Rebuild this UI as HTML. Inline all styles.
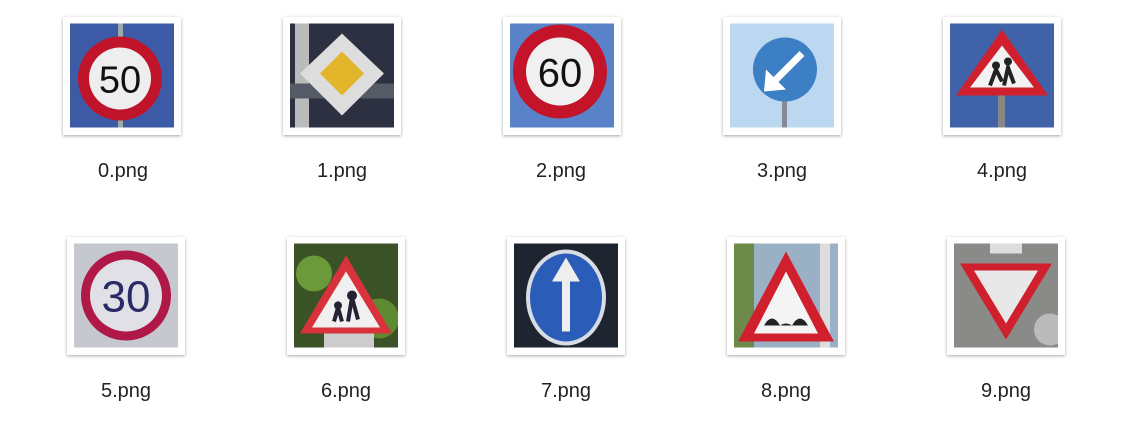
<!DOCTYPE html>
<html><head><meta charset="utf-8"><style>
body{margin:0;width:1124px;height:426px;background:#fff;position:relative;overflow:hidden;font-family:"Liberation Sans",sans-serif}
.t{position:absolute;width:118px;height:118px;background:#fff;box-shadow:0 1px 3px rgba(0,0,0,.35);box-sizing:border-box;padding:6px 7px}
.t svg{display:block;width:104px;height:105px}
.l{position:absolute;width:160px;text-align:center;font-size:20px;color:#222}
</style></head><body>
<div class="t" style="left:63px;top:17px"><svg viewBox="0 0 104 104"><rect width="104" height="104" fill="#3c5aa6"/><rect x="48" y="0" width="5" height="104" fill="#9aa"/><circle cx="50" cy="55" r="42" fill="#c0142a"/><circle cx="50" cy="55" r="31" fill="#eee"/><text x="50" y="69" font-size="38" text-anchor="middle" font-family="Liberation Sans" fill="#111">50</text></svg></div>
<div class="l" style="left:43px;top:160px">0.png</div>

<div class="t" style="left:283px;top:17px"><svg viewBox="0 0 104 104"><rect width="104" height="104" fill="#2c3040"/><rect x="5" width="14" height="104" fill="#bbb"/><rect x="0" y="60" width="104" height="15" fill="#555b66"/><polygon points="52,10 94,50 52,92 10,50" fill="#ddd"/><polygon points="52,28 74,50 52,72 30,50" fill="#e3b52a"/></svg></div>
<div class="l" style="left:262px;top:160px">1.png</div>

<div class="t" style="left:503px;top:17px"><svg viewBox="0 0 104 104"><rect width="104" height="104" fill="#5a82c8"/><circle cx="50" cy="48" r="47" fill="#c4142a"/><circle cx="50" cy="48" r="34" fill="#f0f0f0"/><text x="50" y="63" font-size="40" text-anchor="middle" font-family="Liberation Sans" fill="#111">60</text></svg></div>
<div class="l" style="left:481px;top:160px">2.png</div>

<div class="t" style="left:723px;top:17px"><svg viewBox="0 0 104 104"><rect width="104" height="104" fill="#bcd8f0"/><rect x="52" y="70" width="5" height="34" fill="#889"/><circle cx="55" cy="46" r="32" fill="#3d7fc4"/><line x1="72" y1="30" x2="42" y2="60" stroke="#fff" stroke-width="7"/><polygon points="34,68 36,46 56,66" fill="#fff"/></svg></div>
<div class="l" style="left:702px;top:160px">3.png</div>

<div class="t" style="left:943px;top:17px"><svg viewBox="0 0 104 104"><rect width="104" height="104" fill="#3f62a8"/><rect x="48" y="70" width="7" height="34" fill="#888"/><polygon points="52,6 98,72 6,72" fill="#d0202e"/><polygon points="52,22 84,64 20,64" fill="#f2f2f2"/><circle cx="46" cy="42" r="4" fill="#222"/><circle cx="58" cy="38" r="4" fill="#222"/><path d="M40 62 L46 46 L52 58 M54 62 L58 44 L64 60" stroke="#222" stroke-width="4" fill="none"/></svg></div>
<div class="l" style="left:922px;top:160px">4.png</div>

<div class="t" style="left:67px;top:237px"><svg viewBox="0 0 104 104"><rect width="104" height="104" fill="#c6c8d0"/><circle cx="52" cy="52" r="45" fill="#b01848"/><circle cx="52" cy="52" r="36" fill="#e0e0e6"/><text x="52" y="68" font-size="44" text-anchor="middle" font-family="Liberation Sans" fill="#2a2a66">30</text></svg></div>
<div class="l" style="left:46px;top:380px">5.png</div>

<div class="t" style="left:287px;top:237px"><svg viewBox="0 0 104 104"><rect width="104" height="104" fill="#3a5226"/><circle cx="20" cy="30" r="18" fill="#6a9a3a"/><circle cx="85" cy="75" r="20" fill="#5e8a32"/><rect x="30" y="90" width="50" height="14" fill="#ccc"/><polygon points="52,12 98,90 6,90" fill="#d8323c"/><polygon points="52,28 86,84 18,84" fill="#f0f0f0"/><circle cx="58" cy="52" r="5" fill="#223"/><circle cx="44" cy="62" r="4" fill="#223"/><path d="M40 78 L44 64 L48 78 M54 78 L58 54 L64 76" stroke="#223" stroke-width="4" fill="none"/></svg></div>
<div class="l" style="left:266px;top:380px">6.png</div>

<div class="t" style="left:507px;top:237px"><svg viewBox="0 0 104 104"><rect width="104" height="104" fill="#1e2430"/><ellipse cx="52" cy="54" rx="40" ry="48" fill="#d8dce4"/><ellipse cx="52" cy="54" rx="36" ry="44" fill="#2a5cb8"/><rect x="48" y="34" width="8" height="54" fill="#eee"/><polygon points="52,14 66,38 38,38" fill="#eee"/></svg></div>
<div class="l" style="left:486px;top:380px">7.png</div>

<div class="t" style="left:727px;top:237px"><svg viewBox="0 0 104 104"><rect width="104" height="104" fill="#9ab0c4"/><rect x="0" width="20" height="104" fill="#6e8a4a"/><rect x="86" width="10" height="104" fill="#ddd"/><polygon points="52,8 100,98 4,98" fill="#d0202e"/><polygon points="52,28 84,90 20,90" fill="#f4f4f4"/><path d="M30 82 Q38 68 46 82 Q52 78 58 82 Q66 68 74 82 Z" fill="#222"/></svg></div>
<div class="l" style="left:706px;top:380px">8.png</div>

<div class="t" style="left:947px;top:237px"><svg viewBox="0 0 104 104"><rect width="104" height="104" fill="#8a8a88"/><rect x="36" y="0" width="32" height="10" fill="#ddd"/><circle cx="96" cy="86" r="16" fill="#bbb"/><polygon points="6,20 98,20 52,96" fill="#d0202e"/><polygon points="20,27 84,27 52,80" fill="#e8e8e8"/></svg></div>
<div class="l" style="left:926px;top:380px">9.png</div>
</body></html>
